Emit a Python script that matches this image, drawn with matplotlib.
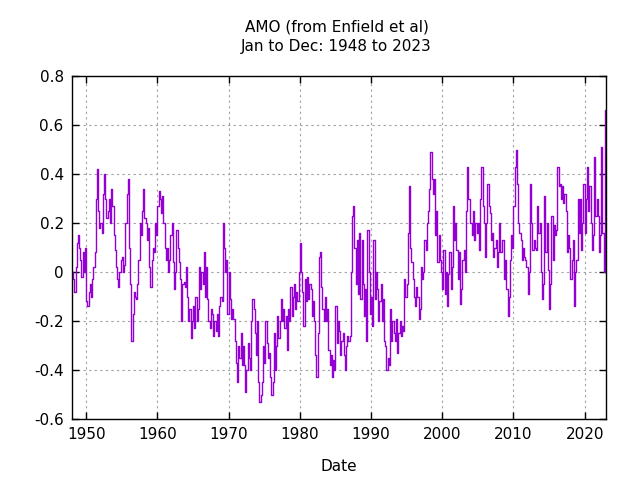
import numpy as np
import matplotlib

matplotlib.use('Agg')
import matplotlib.pyplot as plt


# AMO values, six per year (two-month steps)
start_year = 1948
amo = [
    0.00, -0.03, -0.08, 0.02, 0.12, 0.15,      # 1948
    0.10, 0.05, -0.02, 0.08, 0.00, 0.10,       # 1949
    -0.12, -0.14, -0.08, -0.05, -0.10, -0.03,  # 1950
    0.02, 0.08, 0.30, 0.42, 0.25, 0.18,        # 1951
    0.20, 0.16, 0.32, 0.40, 0.30, 0.22,        # 1952
    0.25, 0.30, 0.20, 0.34, 0.27, 0.15,        # 1953
    0.09, 0.02, -0.03, -0.06, 0.00, 0.05,      # 1954
    0.06, 0.00, 0.03, 0.20, 0.32, 0.38,        # 1955
    0.10, -0.05, -0.28, -0.17, -0.08, -0.10,   # 1956
    -0.11, -0.05, 0.05, 0.20, 0.15, 0.25,      # 1957
    0.34, 0.22, 0.20, 0.13, 0.18, 0.02,        # 1958
    -0.06, 0.05, 0.10, 0.08, 0.20, 0.15,       # 1959
    0.27, 0.33, 0.30, 0.24, 0.31, 0.20,        # 1960
    0.10, 0.05, 0.10, 0.00, 0.05, 0.15,        # 1961
    0.20, 0.04, -0.07, 0.00, 0.17, 0.10,       # 1962
    0.04, -0.03, -0.20, -0.05, -0.04, -0.06,   # 1963
    0.02, -0.10, -0.20, -0.15, -0.27, -0.20,   # 1964
    -0.14, -0.23, -0.10, -0.20, -0.15, 0.02,   # 1965
    -0.07, 0.00, -0.05, 0.08, -0.10, 0.02,     # 1966
    -0.11, -0.20, -0.23, -0.15, -0.17, -0.26,  # 1967
    -0.20, -0.24, -0.17, -0.26, -0.14, -0.10,  # 1968
    -0.12, 0.20, 0.10, 0.00, 0.05, -0.17,      # 1969
    0.00, -0.11, -0.19, -0.15, -0.19, -0.28,   # 1970
    -0.37, -0.45, -0.30, -0.35, -0.25, -0.38,  # 1971
    -0.30, -0.38, -0.49, -0.40, -0.29, -0.35,  # 1972
    -0.40, -0.20, -0.11, -0.15, -0.25, -0.34,  # 1973
    -0.20, -0.45, -0.53, -0.50, -0.45, -0.30,  # 1974
    -0.37, -0.20, -0.29, -0.35, -0.33, -0.43,  # 1975
    -0.50, -0.45, -0.25, -0.40, -0.30, -0.18,  # 1976
    -0.27, -0.20, -0.11, -0.20, -0.15, -0.23,  # 1977
    -0.18, -0.32, -0.15, -0.20, -0.06, -0.18,  # 1978
    -0.10, -0.05, -0.15, -0.08, -0.12, 0.00,   # 1979
    0.12, 0.00, -0.08, -0.22, -0.03, -0.12,    # 1980
    -0.02, -0.11, -0.05, -0.07, -0.18, -0.12,  # 1981
    -0.20, -0.34, -0.43, -0.25, 0.06, 0.08,    # 1982
    -0.06, -0.15, -0.20, -0.10, -0.20, -0.15,  # 1983
    -0.32, -0.38, -0.34, -0.43, -0.36, -0.40,  # 1984
    -0.14, -0.29, -0.20, -0.24, -0.34, -0.28,  # 1985
    -0.25, -0.34, -0.40, -0.30, -0.26, -0.28,  # 1986
    -0.26, 0.00, 0.23, 0.27, 0.10, -0.05,      # 1987
    0.13, -0.09, 0.16, -0.11, 0.13, -0.05,     # 1988
    -0.18, -0.07, -0.28, 0.17, 0.00, -0.17,    # 1989
    -0.10, -0.22, 0.13, -0.11, 0.00, -0.07,    # 1990
    -0.20, -0.12, -0.05, -0.20, -0.11, -0.28,  # 1991
    -0.30, -0.40, -0.35, -0.38, -0.15, -0.28,  # 1992
    -0.20, -0.25, -0.28, -0.19, -0.33, -0.25,  # 1993
    -0.20, -0.26, -0.22, -0.24, -0.03, -0.10,  # 1994
    -0.05, 0.16, 0.35, 0.10, 0.04, -0.03,      # 1995
    -0.10, -0.14, -0.06, -0.10, -0.19, -0.15,  # 1996
    0.02, -0.03, 0.00, 0.13, 0.09, 0.20,       # 1997
    0.25, 0.34, 0.49, 0.38, 0.32, 0.38,        # 1998
    0.15, 0.25, 0.04, 0.15, 0.05, 0.00,        # 1999
    -0.07, 0.09, -0.09, 0.00, -0.14, -0.01,    # 2000
    0.08, -0.07, 0.02, 0.27, 0.13, 0.20,       # 2001
    0.09, -0.03, 0.08, -0.13, -0.07, 0.05,     # 2002
    0.09, 0.00, 0.25, 0.43, 0.30, 0.20,        # 2003
    0.20, 0.15, 0.25, 0.13, 0.20, 0.16,        # 2004
    0.20, 0.09, 0.30, 0.43, 0.27, 0.20,        # 2005
    0.06, 0.20, 0.36, 0.27, 0.24, 0.13,        # 2006
    0.16, 0.06, 0.10, 0.13, 0.02, 0.08,        # 2007
    0.20, 0.08, 0.13, 0.13, -0.03, 0.05,       # 2008
    -0.07, -0.18, -0.10, 0.05, 0.15, 0.10,     # 2009
    0.27, 0.43, 0.50, 0.36, 0.20, 0.16,        # 2010
    0.13, 0.05, 0.10, 0.06, 0.05, 0.02,        # 2011
    -0.09, 0.00, 0.36, 0.20, 0.09, 0.13,       # 2012
    0.10, 0.09, 0.27, 0.16, 0.20, 0.00,        # 2013
    -0.11, -0.05, 0.31, 0.08, 0.20, 0.01,      # 2014
    -0.15, -0.05, 0.23, 0.05, 0.19, 0.15,      # 2015
    0.17, 0.43, 0.35, 0.36, 0.30, 0.35,        # 2016
    0.28, 0.32, 0.25, 0.08, 0.15, 0.10,        # 2017
    -0.03, 0.05, 0.13, -0.14, 0.00, 0.05,      # 2018
    0.30, 0.16, 0.30, 0.09, 0.20, 0.36,        # 2019
    0.16, 0.30, 0.43, 0.25, 0.35, 0.20,        # 2020
    0.09, 0.15, 0.47, 0.23, 0.30, 0.23,        # 2021
    0.08, 0.15, 0.51, 0.16, 0.00, 0.66,        # 2022
    0.40,                                      # 2023
]

x_ticks = [1950, 1960, 1970, 1980, 1990, 2000, 2010, 2020]
y_ticks = [-0.6, -0.4, -0.2, 0, 0.2, 0.4, 0.6, 0.8]
y_labels = ['-0.6', '-0.4', '-0.2', '0', '0.2', '0.4', '0.6', '0.8']

dates = start_year + np.arange(len(amo)) / 6.0

plt.rcParams['font.family'] = 'DejaVu Sans'
plt.rcParams['font.size'] = 11

fig = plt.figure(figsize=(6.4, 4.8), dpi=100)
ax = fig.add_axes([72 / 640, 1 - 419 / 480, (606 - 72) / 640, (419 - 76) / 480])

ax.step(dates, amo, where='post', color='#9400D3', linewidth=1)

ax.set_xlim(1948, 2023)
ax.set_ylim(-0.6, 0.8)
ax.set_xticks(x_ticks)
ax.set_yticks(y_ticks)
ax.set_yticklabels(y_labels)
ax.tick_params(direction='in', length=5, width=1, top=True, right=True,
               labelsize=11, pad=6)
ax.grid(True, color='#a0a0a0', linestyle=(0, (2, 3)), linewidth=0.8)
for s in ax.spines.values():
    s.set_linewidth(1)

ax.set_xlabel('Date', fontsize=11, labelpad=12)

fig.text(0.526, 1 - 27 / 480, 'AMO (from Enfield et al)', ha='center', va='center', fontsize=11)
fig.text(0.526, 1 - 46 / 480, 'Jan to Dec: 1948 to 2023', ha='center', va='center', fontsize=11)

plt.savefig('out.png')
